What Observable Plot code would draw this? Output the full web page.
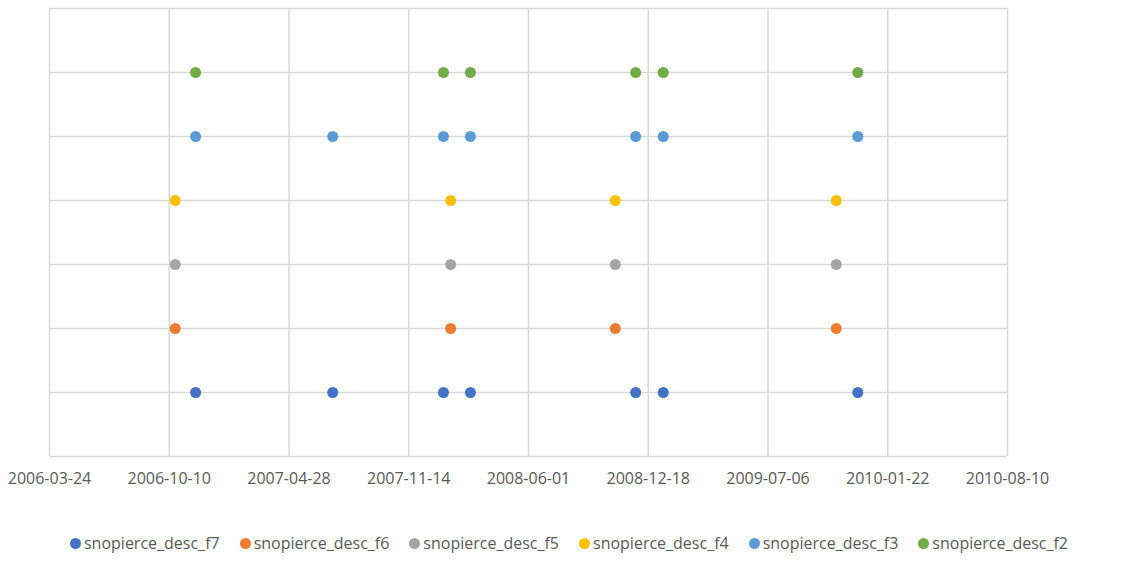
<!DOCTYPE html>
<html>
<head>
<meta charset="utf-8">
<script src="https://cdn.jsdelivr.net/npm/d3@7"></script>
<script src="https://cdn.jsdelivr.net/npm/@observablehq/plot@0.6"></script>
<style>
  body { margin: 0; background: #fff; font-family: "Open Sans", "Noto Sans", sans-serif; }
  #legend { display: flex; justify-content: center; gap: 20px; margin-top: 32px; font-size: 16px; color: #595959; }
  #legend .item { display: flex; align-items: center; gap: 3px; }
  #legend .dot { width: 11px; height: 11px; border-radius: 50%; display: inline-block; }
</style>
</head>
<body>
<div id="chart"></div>
<div id="legend"></div>
<script>
const seriesNames = ["snopierce_desc_f7","snopierce_desc_f6","snopierce_desc_f5","snopierce_desc_f4","snopierce_desc_f3","snopierce_desc_f2"];
const seriesColors = ["#4472C4","#ED7D31","#A5A5A5","#FFC000","#5B9BD5","#70AD47"];
const seriesLevels = [1,2,3,4,5,6];
const f7Dates = ["2006-11-23","2007-07-10","2008-01-11","2008-02-25","2008-11-27","2009-01-12","2009-12-03"];
const f6Dates = ["2006-10-20","2008-01-23","2008-10-24","2009-10-28"];
const f5Dates = ["2006-10-20","2008-01-23","2008-10-24","2009-10-28"];
const f4Dates = ["2006-10-20","2008-01-23","2008-10-24","2009-10-28"];
const f3Dates = ["2006-11-23","2007-07-10","2008-01-11","2008-02-25","2008-11-27","2009-01-12","2009-12-03"];
const f2Dates = ["2006-11-23","2008-01-11","2008-02-25","2008-11-27","2009-01-12","2009-12-03"];
const xTickLabels = ["2006-03-24","2006-10-10","2007-04-28","2007-11-14","2008-06-01","2008-12-18","2009-07-06","2010-01-22","2010-08-10"];
const yTicks = [0,1,2,3,4,5,6,7];

const allDates = [f7Dates,f6Dates,f5Dates,f4Dates,f3Dates,f2Dates];
const data = [];
allDates.forEach((ds, i) => ds.forEach(d => data.push({date: new Date(d + "T00:00:00Z"), level: seriesLevels[i], series: seriesNames[i]})));
const xTicks = xTickLabels.map(d => new Date(d + "T00:00:00Z"));

const chart = Plot.plot({
  width: 1138,
  height: 500,
  marginLeft: 49,
  marginRight: 131,
  marginTop: 8,
  marginBottom: 44,
  style: {fontFamily: '"Open Sans", "Noto Sans", sans-serif', fontSize: "16px", color: "#595959", background: "#fff"},
  x: {type: "utc", domain: [xTicks[0], xTicks[xTicks.length-1]], ticks: xTicks, tickFormat: d3.utcFormat("%Y-%m-%d"), tickSize: 0, tickPadding: 16, label: null},
  y: {domain: [0,7], ticks: yTicks, axis: null, label: null},
  color: {domain: seriesNames, range: seriesColors},
  marks: [
    Plot.gridX(xTicks, {stroke: "#D9D9D9", strokeOpacity: 1, strokeWidth: 1.5}),
    Plot.gridY(yTicks, {stroke: "#D9D9D9", strokeOpacity: 1, strokeWidth: 1.5}),
    Plot.dot(data, {x: "date", y: "level", fill: "series", r: 5.5, stroke: null})
  ]
});
document.getElementById("chart").appendChild(chart);

const legend = document.getElementById("legend");
seriesNames.forEach((n, i) => {
  const it = document.createElement("span");
  it.className = "item";
  it.innerHTML = `<span class="dot" style="background:${seriesColors[i]}"></span><span>${n}</span>`;
  legend.appendChild(it);
});
</script>
</body>
</html>
